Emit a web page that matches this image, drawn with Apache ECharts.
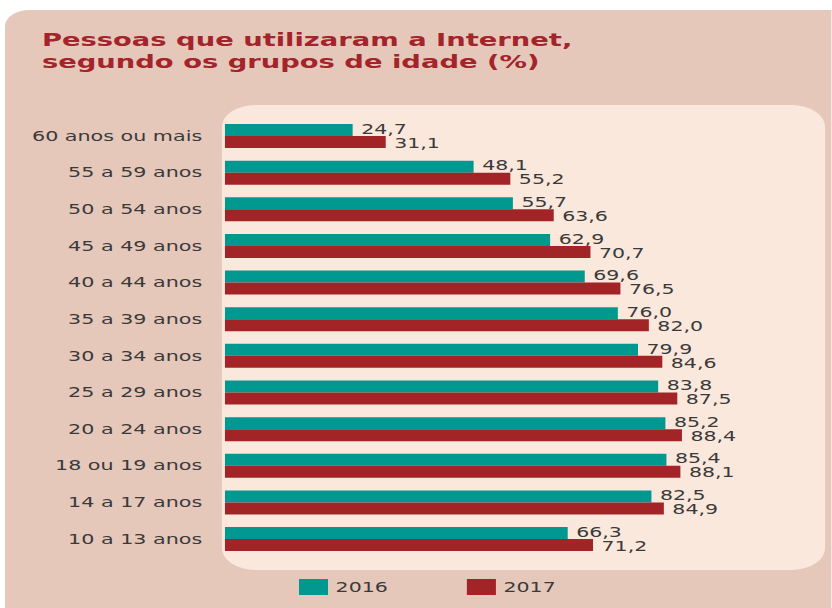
<!DOCTYPE html>
<html><head><meta charset="utf-8">
<script src="https://cdn.jsdelivr.net/npm/echarts@6/dist/echarts.min.js"></script>
<style>
html,body{margin:0;padding:0;background:#fff;overflow:hidden}
#wrap{width:832px;height:608px;overflow:hidden;position:relative}
#c{width:547.37px;height:608px;transform:scaleX(1.52);transform-origin:0 0}
</style>
</head><body><div id="wrap"><div id="c"></div></div>
<script>
const categories = ["10 a 13 anos","14 a 17 anos","18 ou 19 anos","20 a 24 anos","25 a 29 anos","30 a 34 anos","35 a 39 anos","40 a 44 anos","45 a 49 anos","50 a 54 anos","55 a 59 anos","60 anos ou mais"];
const values2016 = [66.3,82.5,85.4,85.2,83.8,79.9,76.0,69.6,62.9,55.7,48.1,24.7];
const values2017 = [71.2,84.9,88.1,88.4,87.5,84.6,82.0,76.5,70.7,63.6,55.2,31.1];
const seriesNames = ["2016","2017"];
const colors = ["#00988f","#a32426"];
const titleText = 'Pessoas que utilizaram a Internet,\nsegundo os grupos de idade (%)';

const chart = echarts.init(document.getElementById('c'), null, {renderer:'svg'});
const fmt = p => p.value.toFixed(1).replace('.', ',');
const F = 'DejaVu Sans';
chart.setOption({
  animation:false,
  graphic:[
    {type:'rect', z:-10, shape:{x:3.3,y:10,width:600,height:640,r:16}, style:{fill:'#e5c8ba'}},
    {type:'rect', z:-9, shape:{x:146,y:105,width:396.8,height:465,r:22}, style:{fill:'#fbe8dc'}},
    {type:'text', left:27.6, top:29.5, style:{text:titleText, fill:'#a3242a', font:'bold 18px "DejaVu Sans"', lineHeight:21.5}}
  ],
  grid:{left:148, top:117.7, width:340.1, height:439.7, containLabel:false},
  xAxis:{type:'value', min:0, max:100, show:false},
  yAxis:{type:'category', data:categories, axisLine:{show:false}, axisTick:{show:false},
    axisLabel:{color:'#3a3a3a', fontSize:13.6, fontFamily:F, margin:15}},
  legend:{top:579, left:196.7, padding:0, itemWidth:19.1, itemHeight:16, itemGap:52, icon:'rect',
    textStyle:{color:'#3a3a3a', fontSize:13.5, fontFamily:F}, data:seriesNames},
  series:[
    {name:seriesNames[0], type:'bar', data:values2016, barWidth:12, barGap:'0%', itemStyle:{color:colors[0]},
      label:{show:true, position:'right', distance:5.6, formatter:fmt, color:'#3a3a3a', fontSize:13.5, fontFamily:F, offset:[0,-1]}},
    {name:seriesNames[1], type:'bar', data:values2017, barWidth:12, barGap:'0%', itemStyle:{color:colors[1]},
      label:{show:true, position:'right', distance:5.6, formatter:fmt, color:'#3a3a3a', fontSize:13.5, fontFamily:F, offset:[0,1]}}
  ]
});
</script></body></html>
